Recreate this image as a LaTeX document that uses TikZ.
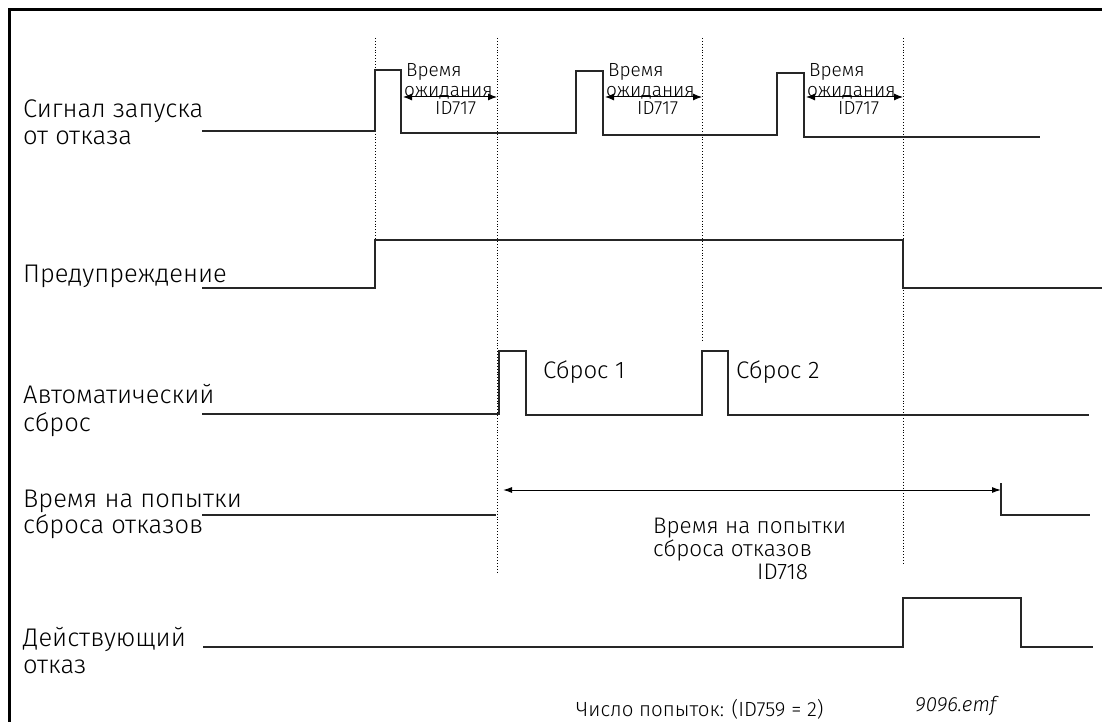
\documentclass[tikz,border=0pt]{standalone}
\usepackage{fontspec}
\setmainfont{Fira Sans Light}[ItalicFont={Fira Sans Light Italic}]
\usetikzlibrary{arrows.meta}
\begin{document}
\begin{tikzpicture}[x=1pt,y=-1pt,
  sig/.style={line width=1.3pt, draw=black!85},
  guide/.style={dotted, line width=0.9pt},
  lbl/.style={anchor=base west, font=\fontsize{25.5}{27}\selectfont, inner sep=0pt},
  rst/.style={anchor=base west, font=\fontsize{24}{26}\selectfont, inner sep=0pt},
  mid/.style={anchor=base west, font=\fontsize{22.5}{24}\selectfont, inner sep=0pt},
  small/.style={anchor=base west, font=\fontsize{19}{19}\selectfont, inner sep=0pt},
  dimarrow/.style={line width=1pt, {Latex[length=9pt,width=7pt]}-{Latex[length=9pt,width=7pt]}},
  longarrow/.style={line width=1pt, {Latex[length=9pt,width=6pt]}-{Latex[length=9pt,width=6pt]}},
]
\useasboundingbox (0,0) rectangle (1102,722);
% frame
\draw[line width=3pt] (9.5,722) -- (9.5,10) -- (1102,10);

% guide lines
\draw[guide] (375,38) -- (375,240);
\draw[guide] (497,38) -- (497,573);
\draw[guide] (702,38) -- (702,340);
\draw[guide] (903,38) -- (903,564);

% row labels
\node[lbl] (l1a) at (23,118) {Сигнал запуска};
\node[lbl] (l1b) at (23,145) {от отказа};
\node[lbl] (l2) at (23,282) {Предупреждение};
\node[lbl] (l3a) at (23,403) {Автоматический};
\node[lbl] (l3b) at (23,431) {сброс};
\node[lbl] (l4a) at (23,507) {Время на попытки};
\node[lbl] (l4b) at (23,533) {сброса отказов};
\node[lbl] (l5a) at (23,646) {Действующий};
\node[lbl] (l5b) at (23,673) {отказ};

% row 1: start signal
\draw[sig] (202,131) -- (375,131) -- (375,70) -- (401,70) -- (401,133) -- (576,133) -- (576,71) -- (603,71) -- (603,135) -- (777,135) -- (777,73) -- (804,73) -- (804,137) -- (1040,137);

% wait time labels and arrows
\foreach \i/\a/\b in {1/401/497, 2/603/702, 3/804/903}{
  \coordinate (wa\i) at (\a+2,97);
  \coordinate (wb\i) at (\b,97);
  \node[small] (wt\i) at (\a+5,77) {Время};
  \node[small] (wo\i) at (\a+3,97) {ожидания};
  \node[small] (wi\i) at (\a+34,115) {ID717};
  \draw[dimarrow] (wa\i) -- (wb\i);
}

% row 2: warning
\draw[sig] (202,288) -- (375,288) -- (375,240) -- (903,240) -- (903,288) -- (1102,288);

% row 3: auto reset
\draw[sig] (202,414) -- (499,414) -- (499,351) -- (526,351) -- (526,415) -- (702,415) -- (702,351) -- (728,351) -- (728,415) -- (1089,415);
\node[rst] (r1) at (543,378) {Сброс 1};
\node[rst] (r2) at (736,378) {Сброс 2};

% row 4: reset trial time
\draw[sig] (202,515) -- (496,515);
\coordinate (ta) at (503,490);
\coordinate (tb) at (1001,490);
\draw[longarrow] (ta) -- (tb);
\draw[sig] (1001,483) -- (1001,515) -- (1090,515);
\node[mid] (tta) at (653,533) {Время на попытки};
\node[mid] (ttb) at (653,556) {сброса отказов};
\node[mid] (ttc) at (757,579) {ID718};

% row 5: active fault
\draw[sig] (203,647) -- (903,647) -- (903,598) -- (1021,598) -- (1021,647) -- (1093,647);

% bottom
\node[rst, font=\fontsize{20.5}{22}\selectfont] (cnt) at (576,716) {Число попыток: (ID759 = 2)};
\node[small, font=\fontsize{20.5}{21}\selectfont\itshape] (emf) at (915,711) {9096.emf};
\end{tikzpicture}
\end{document}
